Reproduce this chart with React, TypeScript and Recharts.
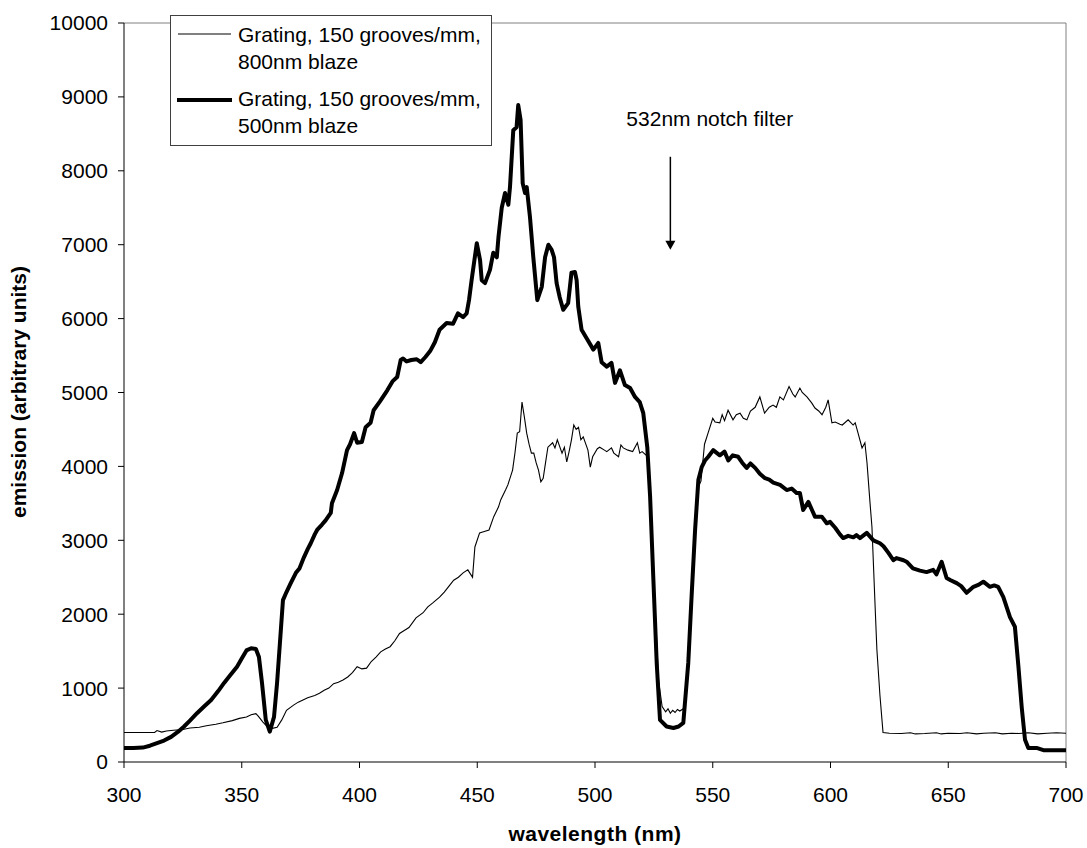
import { LineChart, Line, XAxis, YAxis, ReferenceLine, Legend, Customized } from 'recharts';

const FONT = '"Liberation Sans", Arial, sans-serif';

// 150 grooves/mm, 800nm blaze (thin trace)
const thinWavelength = [
  300, 313, 314, 316, 318, 321, 325, 328, 332, 335, 339, 342, 346, 349, 352, 354, 356, 357, 359, 361,
  363, 365, 367, 369, 372, 374, 376, 378, 381, 383, 385, 387, 389, 391, 393, 395, 397, 399, 401, 403,
  405, 407, 409, 411, 413, 415, 417, 419, 421, 424, 427, 429, 431, 434, 436, 438, 440, 442, 444, 446,
  448, 449, 451, 453, 455, 457, 459, 460, 462, 463, 465, 466, 467, 468, 469, 470, 471, 472, 473, 474,
  475, 476, 477, 478, 479, 480, 482, 483, 484, 486, 487, 488, 489, 490, 491, 492, 493, 494, 495, 497,
  498, 499, 501, 502, 504, 505, 507, 508, 510, 511, 512, 514, 516, 518, 519, 520, 522.5, 524, 525.5, 527,
  528.5, 530, 531, 532, 533, 534, 535, 536, 537.5, 539, 540.5, 542, 543.5, 545, 546.5, 548, 550, 551, 553, 554,
  555, 556.5, 558.6, 560, 561.6, 563, 564.5, 566, 568, 570, 572, 574, 575.6, 577, 578.5, 580, 582.4, 584, 585, 587,
  588, 590, 592, 593.4, 595, 596.4, 598, 599, 600.6, 602, 604, 605, 607.5, 609.6, 610.5, 611.7, 613.4, 614.6, 615.5, 616.8,
  617.6, 619, 619.7, 621, 622.3, 625, 630, 634, 636, 640, 645, 647, 650, 655, 658, 662, 665, 670, 673, 677,
  680, 684, 688, 692, 696, 700,
];
const thinEmission = [
  400, 400, 425, 405, 420, 430, 440, 460, 470, 490, 510, 530, 560, 590, 610, 640, 655, 620, 540, 475,
  455, 470, 570, 700, 770, 810, 840, 870, 900, 930, 970, 1000, 1060, 1080, 1110, 1150, 1210, 1290, 1260, 1270,
  1360, 1420, 1490, 1530, 1560, 1640, 1740, 1780, 1820, 1950, 2020, 2100, 2150, 2230, 2300, 2380, 2460, 2500, 2560, 2600,
  2500, 2910, 3100, 3120, 3140, 3320, 3450, 3550, 3680, 3750, 3950, 4180, 4450, 4470, 4870, 4670, 4450, 4300, 4180, 4180,
  4050, 3950, 3790, 3840, 4050, 4260, 4320, 4250, 4360, 4180, 4260, 4060, 4200, 4360, 4560, 4500, 4530, 4360, 4400, 4220,
  3990, 4130, 4240, 4260, 4220, 4200, 4250, 4180, 4130, 4290, 4250, 4220, 4200, 4320, 4180, 4200, 4130, 3300, 2100, 1100,
  750, 680, 720, 660, 700, 670, 710, 690, 720, 1000, 1800, 2800, 3700, 3800, 4300, 4450, 4650, 4600, 4590, 4700,
  4620, 4760, 4630, 4700, 4720, 4650, 4630, 4750, 4800, 4940, 4720, 4800, 4830, 4800, 4940, 4900, 5080, 4980, 4940, 5060,
  5000, 4940, 4860, 4790, 4750, 4700, 4800, 4900, 4590, 4600, 4570, 4560, 4630, 4560, 4590, 4450, 4250, 4320, 4050, 3500,
  3180, 2060, 1520, 900, 400, 390, 385, 395, 380, 385, 395, 380, 390, 385, 395, 380, 390, 395, 380, 390,
  385, 395, 380, 390, 395, 390,
];

// 150 grooves/mm, 500nm blaze (thick trace)
const thickWavelength = [
  300, 304, 308, 311, 314, 317, 320, 323, 325.5, 328, 331, 334, 337, 340, 342.5, 345, 348, 350, 352, 354,
  356, 357.3, 358.6, 360.2, 361.9, 363.7, 365, 366.5, 367.5, 369, 370.8, 373, 374.5, 376.4, 378, 379.3, 381, 382, 384, 385.6,
  387.8, 388.3, 390.5, 392.6, 394.7, 396, 397.7, 399, 401, 402.6, 404.7, 406, 408.7, 411.8, 414, 416, 417.5, 418.5, 420, 422,
  424.3, 426, 428, 430, 432, 434, 437, 439.7, 441.8, 444, 445.5, 446.5, 447.6, 449.8, 451.2, 451.9, 453.3, 455.4, 456.8, 458.3,
  459, 460.4, 461.8, 463.2, 463.9, 465.3, 466.7, 467.4, 468.4, 469.3, 470.3, 471, 472.4, 473.8, 475.5, 477.4, 478.8, 480.2, 481.6, 482.6,
  483.7, 485, 486.5, 488.6, 490, 491.5, 492.2, 492.9, 494.3, 496.5, 499.3, 501.4, 502.8, 505, 507, 508.5, 510.6, 512.7, 514.9, 517,
  519, 520.5, 522.2, 523.4, 524.8, 526.2, 527.6, 530.4, 533.3, 535.5, 537.5, 539.6, 541, 542.5, 543.9, 545.3, 546.7, 548.1, 550.2, 553,
  555, 556.6, 558.5, 560.8, 562.5, 564.4, 566, 568, 570, 572.2, 574, 575.7, 578.6, 581.4, 583.5, 585.6, 587, 588.4, 590.6, 592,
  593.4, 596.3, 598.4, 599.8, 602, 604, 605.4, 607.5, 609.7, 611, 612.5, 615.4, 618.2, 621, 622.5, 624.6, 626.7, 628, 631, 632.3,
  635, 638, 640.8, 643.6, 645, 647.2, 649.3, 651, 653.6, 655.5, 657.8, 660.7, 663, 664.9, 667.7, 669.5, 671.2, 673.4, 676.2, 678.3,
  679.8, 681.2, 682.6, 684, 687.5, 690.4, 700,
];
const thickEmission = [
  190, 190, 195, 220, 255, 290, 340, 410, 480, 560, 660, 750, 840, 960, 1070, 1170, 1290, 1400, 1510, 1540,
  1530, 1420, 1070, 570, 410, 610, 1070, 1740, 2190, 2300, 2420, 2560, 2620, 2770, 2880, 2960, 3080, 3140, 3210, 3270,
  3370, 3500, 3680, 3910, 4220, 4300, 4450, 4320, 4330, 4530, 4590, 4760, 4880, 5030, 5150, 5210, 5440, 5460, 5420, 5440,
  5450, 5410, 5480, 5560, 5680, 5850, 5940, 5930, 6070, 6020, 6070, 6250, 6520, 7020, 6790, 6520, 6480, 6660, 6890, 6830,
  7100, 7500, 7700, 7540, 7780, 8550, 8590, 8890, 8690, 7830, 7700, 7780, 7370, 6830, 6250, 6430, 6830, 7000, 6930, 6830,
  6480, 6290, 6120, 6210, 6620, 6630, 6520, 6160, 5850, 5730, 5580, 5670, 5410, 5350, 5400, 5130, 5300, 5100, 5060, 4940,
  4870, 4720, 4260, 3590, 2460, 1340, 570, 480, 460, 480, 530, 1340, 2230, 3140, 3820, 3990, 4080, 4130, 4220, 4150,
  4200, 4080, 4150, 4130, 4050, 3980, 4040, 3980, 3900, 3840, 3820, 3780, 3750, 3680, 3700, 3640, 3640, 3410, 3520, 3420,
  3320, 3320, 3230, 3250, 3170, 3080, 3030, 3060, 3040, 3070, 3030, 3100, 3000, 2960, 2920, 2830, 2730, 2760, 2730, 2710,
  2620, 2590, 2570, 2600, 2540, 2710, 2490, 2460, 2420, 2380, 2290, 2370, 2400, 2440, 2370, 2390, 2370, 2230, 1960, 1830,
  1290, 740, 300, 190, 190, 160, 160,
];

const seriesNames = ['Grating, 150 grooves/mm, 800nm blaze', 'Grating, 150 grooves/mm, 500nm blaze'];
const legendLines = [
  ['Grating, 150 grooves/mm,', '800nm blaze'],
  ['Grating, 150 grooves/mm,', '500nm blaze'],
];
const xTicks = [300, 350, 400, 450, 500, 550, 600, 650, 700];
const yTicks = [0, 1000, 2000, 3000, 4000, 5000, 6000, 7000, 8000, 9000, 10000];
const notchLabel = '532nm notch filter';
const notchArrow = [{ x: 532, y: 8190 }, { x: 532, y: 6930 }];

const thinData = thinWavelength.map((x, i) => ({ x, v: thinEmission[i] }));
const thickData = thickWavelength.map((x, i) => ({ x, v: thickEmission[i] }));

function LegendBox() {
  return (
    <svg width={323} height={132} style={{ display: 'block' }}>
      <rect x={0.5} y={0.5} width={321} height={130} fill="#fff" stroke="#404040" strokeWidth={1} />
      <line x1={8} y1={19} x2={61} y2={19} stroke="#000" strokeWidth={1} />
      <line x1={7} y1={85} x2={62} y2={85} stroke="#000" strokeWidth={4} />
      {legendLines.map((lines, i) =>
        lines.map((t, j) => (
          <text key={`${i}-${j}`} x={68} y={(i === 0 ? 27 : 91) + j * 27} fontSize={21} fontFamily={FONT} fill="#000">
            {t}
          </text>
        ))
      )}
    </svg>
  );
}

function NotchArrow(props: any) {
  const { x1, y1, x2, y2 } = props;
  return (
    <g>
      <text x={x1 - 44} y={y1 - 31} fontSize={21} fontFamily={FONT} fill="#000">{notchLabel}</text>
      <line x1={x1} y1={y1} x2={x2} y2={y2 - 8} stroke="#000" strokeWidth={1.5} />
      <polygon points={`${x2 - 5},${y2 - 9} ${x2 + 5},${y2 - 9} ${x2},${y2}`} fill="#000" />
    </g>
  );
}

function AxisTitles() {
  return (
    <g fontFamily={FONT} fontWeight="bold" fontSize={21} fill="#000">
      <text x={595} y={841} textAnchor="middle" letterSpacing={0.5}>wavelength (nm)</text>
      <text x={26} y={392} textAnchor="middle" transform="rotate(-90, 26, 392)">emission (arbitrary units)</text>
    </g>
  );
}

export default function App() {
  return (
    <div style={{ position: 'absolute', left: 0, top: 0, width: 1087, height: 848, background: '#fff' }}>
      <LineChart width={1087} height={848} margin={{ top: 23, right: 21, bottom: 0, left: 0 }}>
        <XAxis
          type="number"
          dataKey="x"
          domain={[300, 700]}
          ticks={xTicks}
          height={86}
          tickSize={6}
          tickMargin={19}
          axisLine={{ stroke: '#000' }}
          tickLine={{ stroke: '#000' }}
          tick={{ fill: '#000', fontSize: 21, fontFamily: FONT }}
          allowDataOverflow
        />
        <YAxis
          type="number"
          domain={[0, 10000]}
          ticks={yTicks}
          width={124}
          tickSize={6}
          tickMargin={10}
          axisLine={{ stroke: '#000' }}
          tickLine={{ stroke: '#000' }}
          tick={{ fill: '#000', fontSize: 21, fontFamily: FONT }}
          allowDataOverflow
        />
        <ReferenceLine y={10000} stroke="#808080" />
        <ReferenceLine x={700} stroke="#808080" />
        <Line
          data={thinData}
          dataKey="v"
          name={seriesNames[0]}
          type="linear"
          stroke="#000"
          strokeWidth={1.1}
          dot={false}
          isAnimationActive={false}
        />
        <Line
          data={thickData}
          dataKey="v"
          name={seriesNames[1]}
          type="linear"
          stroke="#000"
          strokeWidth={4}
          strokeLinejoin="round"
          dot={false}
          isAnimationActive={false}
        />
        <ReferenceLine segment={notchArrow} shape={NotchArrow} ifOverflow="visible" />
        <Customized component={AxisTitles} />
        <Legend
          layout="vertical"
          align="center"
          verticalAlign="middle"
          wrapperStyle={{ left: 170, top: 15, width: 323, height: 132 }}
          content={() => <LegendBox />}
        />
      </LineChart>
    </div>
  );
}
